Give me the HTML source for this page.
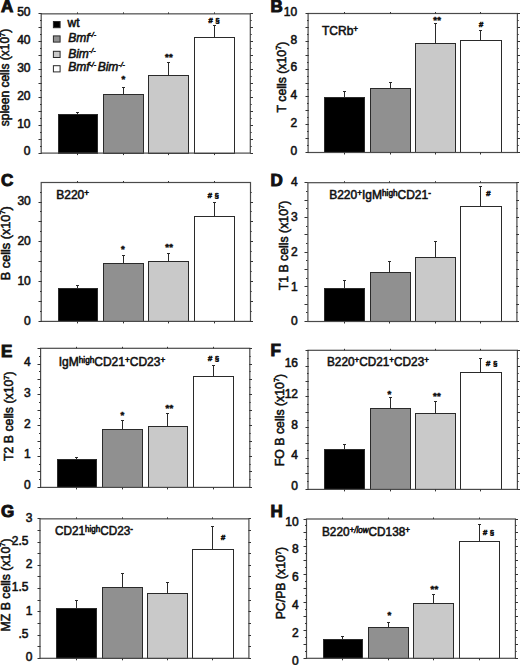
<!DOCTYPE html>
<html><head><meta charset="utf-8"><style>
html,body{margin:0;padding:0;background:#fff;}
svg{display:block;}
text{font-family:"Liberation Sans", sans-serif;fill:#111;stroke:#111;stroke-width:0.55px;}
</style></head><body>
<svg width="520" height="665" viewBox="0 0 520 665">
<rect width="520" height="665" fill="#fff"/>
<line x1="77.5" y1="114.5" x2="77.5" y2="112.5" stroke="#2a2a2a" stroke-width="1"/>
<line x1="76" y1="112.5" x2="79" y2="112.5" stroke="#2a2a2a" stroke-width="1"/>
<rect x="58.5" y="114.5" width="39" height="39" fill="#000000" stroke="#2a2a2a" stroke-width="1"/>
<line x1="123.5" y1="94.5" x2="123.5" y2="87.5" stroke="#2a2a2a" stroke-width="1"/>
<line x1="122" y1="87.5" x2="125" y2="87.5" stroke="#2a2a2a" stroke-width="1"/>
<rect x="103.5" y="94.5" width="40" height="59" fill="#909090" stroke="#2a2a2a" stroke-width="1"/>
<text x="123.5" y="82.4" font-size="9.5" font-weight="bold" text-anchor="middle" letter-spacing="0.3">*</text>
<line x1="168.5" y1="75.5" x2="168.5" y2="62.5" stroke="#2a2a2a" stroke-width="1"/>
<line x1="167" y1="62.5" x2="170" y2="62.5" stroke="#2a2a2a" stroke-width="1"/>
<rect x="148.5" y="75.5" width="40" height="78" fill="#c9c9c9" stroke="#2a2a2a" stroke-width="1"/>
<text x="168.9" y="59.6" font-size="9.5" font-weight="bold" text-anchor="middle" letter-spacing="0.3">**</text>
<line x1="214.5" y1="37.5" x2="214.5" y2="25.5" stroke="#2a2a2a" stroke-width="1"/>
<line x1="213" y1="25.5" x2="216" y2="25.5" stroke="#2a2a2a" stroke-width="1"/>
<rect x="194.5" y="37.5" width="40" height="116" fill="#ffffff" stroke="#2a2a2a" stroke-width="1"/>
<text x="210.4" y="23" font-size="8" font-weight="bold" font-style="italic" text-anchor="middle">#</text>
<text x="217.5" y="23" font-size="8" text-anchor="middle">§</text>
<rect x="41.2" y="13.85" width="209.1" height="139.25" fill="none" stroke="#4a4a4a" stroke-width="1.2"/>
<line x1="40" y1="153.5" x2="41.5" y2="153.5" stroke="#333" stroke-width="1"/>
<line x1="40" y1="146.5" x2="41.5" y2="146.5" stroke="#333" stroke-width="1"/>
<line x1="40" y1="139.5" x2="41.5" y2="139.5" stroke="#333" stroke-width="1"/>
<line x1="40" y1="132.5" x2="41.5" y2="132.5" stroke="#333" stroke-width="1"/>
<line x1="40" y1="125.5" x2="41.5" y2="125.5" stroke="#333" stroke-width="1"/>
<line x1="40" y1="118.5" x2="41.5" y2="118.5" stroke="#333" stroke-width="1"/>
<line x1="40" y1="111.5" x2="41.5" y2="111.5" stroke="#333" stroke-width="1"/>
<line x1="40" y1="104.5" x2="41.5" y2="104.5" stroke="#333" stroke-width="1"/>
<line x1="40" y1="97.5" x2="41.5" y2="97.5" stroke="#333" stroke-width="1"/>
<line x1="40" y1="90.5" x2="41.5" y2="90.5" stroke="#333" stroke-width="1"/>
<line x1="40" y1="83.5" x2="41.5" y2="83.5" stroke="#333" stroke-width="1"/>
<line x1="40" y1="76.5" x2="41.5" y2="76.5" stroke="#333" stroke-width="1"/>
<line x1="40" y1="69.5" x2="41.5" y2="69.5" stroke="#333" stroke-width="1"/>
<line x1="40" y1="62.5" x2="41.5" y2="62.5" stroke="#333" stroke-width="1"/>
<line x1="40" y1="55.5" x2="41.5" y2="55.5" stroke="#333" stroke-width="1"/>
<line x1="40" y1="48.5" x2="41.5" y2="48.5" stroke="#333" stroke-width="1"/>
<line x1="40" y1="41.5" x2="41.5" y2="41.5" stroke="#333" stroke-width="1"/>
<line x1="40" y1="34.5" x2="41.5" y2="34.5" stroke="#333" stroke-width="1"/>
<line x1="40" y1="27.5" x2="41.5" y2="27.5" stroke="#333" stroke-width="1"/>
<line x1="40" y1="20.5" x2="41.5" y2="20.5" stroke="#333" stroke-width="1"/>
<line x1="40" y1="13.5" x2="41.5" y2="13.5" stroke="#333" stroke-width="1"/>
<line x1="38.5" y1="153.5" x2="41.5" y2="153.5" stroke="#333" stroke-width="1"/>
<line x1="38.5" y1="139.5" x2="41.5" y2="139.5" stroke="#333" stroke-width="1"/>
<line x1="38.5" y1="125.5" x2="41.5" y2="125.5" stroke="#333" stroke-width="1"/>
<line x1="38.5" y1="111.5" x2="41.5" y2="111.5" stroke="#333" stroke-width="1"/>
<line x1="38.5" y1="97.5" x2="41.5" y2="97.5" stroke="#333" stroke-width="1"/>
<line x1="38.5" y1="83.5" x2="41.5" y2="83.5" stroke="#333" stroke-width="1"/>
<line x1="38.5" y1="69.5" x2="41.5" y2="69.5" stroke="#333" stroke-width="1"/>
<line x1="38.5" y1="55.5" x2="41.5" y2="55.5" stroke="#333" stroke-width="1"/>
<line x1="38.5" y1="41.5" x2="41.5" y2="41.5" stroke="#333" stroke-width="1"/>
<line x1="38.5" y1="27.5" x2="41.5" y2="27.5" stroke="#333" stroke-width="1"/>
<line x1="38.5" y1="13.5" x2="41.5" y2="13.5" stroke="#333" stroke-width="1"/>
<line x1="250.5" y1="153.5" x2="251.7" y2="153.5" stroke="#333" stroke-width="1"/>
<line x1="250.5" y1="146.5" x2="251.7" y2="146.5" stroke="#333" stroke-width="1"/>
<line x1="250.5" y1="139.5" x2="251.7" y2="139.5" stroke="#333" stroke-width="1"/>
<line x1="250.5" y1="132.5" x2="251.7" y2="132.5" stroke="#333" stroke-width="1"/>
<line x1="250.5" y1="125.5" x2="251.7" y2="125.5" stroke="#333" stroke-width="1"/>
<line x1="250.5" y1="118.5" x2="251.7" y2="118.5" stroke="#333" stroke-width="1"/>
<line x1="250.5" y1="111.5" x2="251.7" y2="111.5" stroke="#333" stroke-width="1"/>
<line x1="250.5" y1="104.5" x2="251.7" y2="104.5" stroke="#333" stroke-width="1"/>
<line x1="250.5" y1="97.5" x2="251.7" y2="97.5" stroke="#333" stroke-width="1"/>
<line x1="250.5" y1="90.5" x2="251.7" y2="90.5" stroke="#333" stroke-width="1"/>
<line x1="250.5" y1="83.5" x2="251.7" y2="83.5" stroke="#333" stroke-width="1"/>
<line x1="250.5" y1="76.5" x2="251.7" y2="76.5" stroke="#333" stroke-width="1"/>
<line x1="250.5" y1="69.5" x2="251.7" y2="69.5" stroke="#333" stroke-width="1"/>
<line x1="250.5" y1="62.5" x2="251.7" y2="62.5" stroke="#333" stroke-width="1"/>
<line x1="250.5" y1="55.5" x2="251.7" y2="55.5" stroke="#333" stroke-width="1"/>
<line x1="250.5" y1="48.5" x2="251.7" y2="48.5" stroke="#333" stroke-width="1"/>
<line x1="250.5" y1="41.5" x2="251.7" y2="41.5" stroke="#333" stroke-width="1"/>
<line x1="250.5" y1="34.5" x2="251.7" y2="34.5" stroke="#333" stroke-width="1"/>
<line x1="250.5" y1="27.5" x2="251.7" y2="27.5" stroke="#333" stroke-width="1"/>
<line x1="250.5" y1="20.5" x2="251.7" y2="20.5" stroke="#333" stroke-width="1"/>
<line x1="250.5" y1="13.5" x2="251.7" y2="13.5" stroke="#333" stroke-width="1"/>
<line x1="250.5" y1="153.5" x2="253" y2="153.5" stroke="#333" stroke-width="1"/>
<line x1="250.5" y1="139.5" x2="253" y2="139.5" stroke="#333" stroke-width="1"/>
<line x1="250.5" y1="125.5" x2="253" y2="125.5" stroke="#333" stroke-width="1"/>
<line x1="250.5" y1="111.5" x2="253" y2="111.5" stroke="#333" stroke-width="1"/>
<line x1="250.5" y1="97.5" x2="253" y2="97.5" stroke="#333" stroke-width="1"/>
<line x1="250.5" y1="83.5" x2="253" y2="83.5" stroke="#333" stroke-width="1"/>
<line x1="250.5" y1="69.5" x2="253" y2="69.5" stroke="#333" stroke-width="1"/>
<line x1="250.5" y1="55.5" x2="253" y2="55.5" stroke="#333" stroke-width="1"/>
<line x1="250.5" y1="41.5" x2="253" y2="41.5" stroke="#333" stroke-width="1"/>
<line x1="250.5" y1="27.5" x2="253" y2="27.5" stroke="#333" stroke-width="1"/>
<line x1="250.5" y1="13.5" x2="253" y2="13.5" stroke="#333" stroke-width="1"/>
<line x1="77.5" y1="12.35" x2="77.5" y2="13.85" stroke="#333" stroke-width="1"/>
<line x1="77.5" y1="153.1" x2="77.5" y2="155.1" stroke="#333" stroke-width="1"/>
<line x1="123.5" y1="12.35" x2="123.5" y2="13.85" stroke="#333" stroke-width="1"/>
<line x1="123.5" y1="153.1" x2="123.5" y2="155.1" stroke="#333" stroke-width="1"/>
<line x1="168.5" y1="12.35" x2="168.5" y2="13.85" stroke="#333" stroke-width="1"/>
<line x1="168.5" y1="153.1" x2="168.5" y2="155.1" stroke="#333" stroke-width="1"/>
<line x1="214.5" y1="12.35" x2="214.5" y2="13.85" stroke="#333" stroke-width="1"/>
<line x1="214.5" y1="153.1" x2="214.5" y2="155.1" stroke="#333" stroke-width="1"/>
<text x="30.5" y="155.4" font-size="12.0" text-anchor="end">0</text>
<text x="30.5" y="127.55" font-size="12.0" text-anchor="end">10</text>
<text x="30.5" y="99.7" font-size="12.0" text-anchor="end">20</text>
<text x="30.5" y="71.85" font-size="12.0" text-anchor="end">30</text>
<text x="30.5" y="44" font-size="12.0" text-anchor="end">40</text>
<text x="30.5" y="16.15" font-size="12.0" text-anchor="end">50</text>
<text x="1" y="11.6" font-size="17" font-weight="bold" style="stroke-width:1.0px">A</text>
<text transform="translate(9 77.5) rotate(-90)" font-size="12.0" text-anchor="middle">spleen cells (x10<tspan font-size="7.5" dy="-4.5">7</tspan><tspan dy="4.5">)</tspan></text>
<line x1="344.5" y1="97.5" x2="344.5" y2="91.5" stroke="#2a2a2a" stroke-width="1"/>
<line x1="343" y1="91.5" x2="346" y2="91.5" stroke="#2a2a2a" stroke-width="1"/>
<rect x="324.5" y="97.5" width="40" height="55" fill="#000000" stroke="#2a2a2a" stroke-width="1"/>
<line x1="390.5" y1="88.5" x2="390.5" y2="82.5" stroke="#2a2a2a" stroke-width="1"/>
<line x1="389" y1="82.5" x2="392" y2="82.5" stroke="#2a2a2a" stroke-width="1"/>
<rect x="370.5" y="88.5" width="40" height="64" fill="#909090" stroke="#2a2a2a" stroke-width="1"/>
<line x1="435.5" y1="43.5" x2="435.5" y2="23.5" stroke="#2a2a2a" stroke-width="1"/>
<line x1="434" y1="23.5" x2="437" y2="23.5" stroke="#2a2a2a" stroke-width="1"/>
<rect x="415.5" y="43.5" width="40" height="109" fill="#c9c9c9" stroke="#2a2a2a" stroke-width="1"/>
<text x="437.3" y="23.2" font-size="9.5" font-weight="bold" text-anchor="middle" letter-spacing="0.3">**</text>
<line x1="480.5" y1="40.5" x2="480.5" y2="30.5" stroke="#2a2a2a" stroke-width="1"/>
<line x1="479" y1="30.5" x2="482" y2="30.5" stroke="#2a2a2a" stroke-width="1"/>
<rect x="460.5" y="40.5" width="41" height="112" fill="#ffffff" stroke="#2a2a2a" stroke-width="1"/>
<text x="480.9" y="27.3" font-size="8" font-weight="bold" font-style="italic" text-anchor="middle">#</text>
<rect x="308.1" y="13.5" width="209.3" height="139" fill="none" stroke="#4a4a4a" stroke-width="1.2"/>
<line x1="307" y1="152.5" x2="308.5" y2="152.5" stroke="#333" stroke-width="1"/>
<line x1="307" y1="145.5" x2="308.5" y2="145.5" stroke="#333" stroke-width="1"/>
<line x1="307" y1="138.5" x2="308.5" y2="138.5" stroke="#333" stroke-width="1"/>
<line x1="307" y1="131.5" x2="308.5" y2="131.5" stroke="#333" stroke-width="1"/>
<line x1="307" y1="124.5" x2="308.5" y2="124.5" stroke="#333" stroke-width="1"/>
<line x1="307" y1="117.5" x2="308.5" y2="117.5" stroke="#333" stroke-width="1"/>
<line x1="307" y1="110.5" x2="308.5" y2="110.5" stroke="#333" stroke-width="1"/>
<line x1="307" y1="103.5" x2="308.5" y2="103.5" stroke="#333" stroke-width="1"/>
<line x1="307" y1="96.5" x2="308.5" y2="96.5" stroke="#333" stroke-width="1"/>
<line x1="307" y1="89.5" x2="308.5" y2="89.5" stroke="#333" stroke-width="1"/>
<line x1="307" y1="83.5" x2="308.5" y2="83.5" stroke="#333" stroke-width="1"/>
<line x1="307" y1="76.5" x2="308.5" y2="76.5" stroke="#333" stroke-width="1"/>
<line x1="307" y1="69.5" x2="308.5" y2="69.5" stroke="#333" stroke-width="1"/>
<line x1="307" y1="62.5" x2="308.5" y2="62.5" stroke="#333" stroke-width="1"/>
<line x1="307" y1="55.5" x2="308.5" y2="55.5" stroke="#333" stroke-width="1"/>
<line x1="307" y1="48.5" x2="308.5" y2="48.5" stroke="#333" stroke-width="1"/>
<line x1="307" y1="41.5" x2="308.5" y2="41.5" stroke="#333" stroke-width="1"/>
<line x1="307" y1="34.5" x2="308.5" y2="34.5" stroke="#333" stroke-width="1"/>
<line x1="307" y1="27.5" x2="308.5" y2="27.5" stroke="#333" stroke-width="1"/>
<line x1="307" y1="20.5" x2="308.5" y2="20.5" stroke="#333" stroke-width="1"/>
<line x1="307" y1="13.5" x2="308.5" y2="13.5" stroke="#333" stroke-width="1"/>
<line x1="305.5" y1="152.5" x2="308.5" y2="152.5" stroke="#333" stroke-width="1"/>
<line x1="305.5" y1="138.5" x2="308.5" y2="138.5" stroke="#333" stroke-width="1"/>
<line x1="305.5" y1="124.5" x2="308.5" y2="124.5" stroke="#333" stroke-width="1"/>
<line x1="305.5" y1="110.5" x2="308.5" y2="110.5" stroke="#333" stroke-width="1"/>
<line x1="305.5" y1="96.5" x2="308.5" y2="96.5" stroke="#333" stroke-width="1"/>
<line x1="305.5" y1="83.5" x2="308.5" y2="83.5" stroke="#333" stroke-width="1"/>
<line x1="305.5" y1="69.5" x2="308.5" y2="69.5" stroke="#333" stroke-width="1"/>
<line x1="305.5" y1="55.5" x2="308.5" y2="55.5" stroke="#333" stroke-width="1"/>
<line x1="305.5" y1="41.5" x2="308.5" y2="41.5" stroke="#333" stroke-width="1"/>
<line x1="305.5" y1="27.5" x2="308.5" y2="27.5" stroke="#333" stroke-width="1"/>
<line x1="305.5" y1="13.5" x2="308.5" y2="13.5" stroke="#333" stroke-width="1"/>
<line x1="517.5" y1="152.5" x2="518.7" y2="152.5" stroke="#333" stroke-width="1"/>
<line x1="517.5" y1="145.5" x2="518.7" y2="145.5" stroke="#333" stroke-width="1"/>
<line x1="517.5" y1="138.5" x2="518.7" y2="138.5" stroke="#333" stroke-width="1"/>
<line x1="517.5" y1="131.5" x2="518.7" y2="131.5" stroke="#333" stroke-width="1"/>
<line x1="517.5" y1="124.5" x2="518.7" y2="124.5" stroke="#333" stroke-width="1"/>
<line x1="517.5" y1="117.5" x2="518.7" y2="117.5" stroke="#333" stroke-width="1"/>
<line x1="517.5" y1="110.5" x2="518.7" y2="110.5" stroke="#333" stroke-width="1"/>
<line x1="517.5" y1="103.5" x2="518.7" y2="103.5" stroke="#333" stroke-width="1"/>
<line x1="517.5" y1="96.5" x2="518.7" y2="96.5" stroke="#333" stroke-width="1"/>
<line x1="517.5" y1="89.5" x2="518.7" y2="89.5" stroke="#333" stroke-width="1"/>
<line x1="517.5" y1="83.5" x2="518.7" y2="83.5" stroke="#333" stroke-width="1"/>
<line x1="517.5" y1="76.5" x2="518.7" y2="76.5" stroke="#333" stroke-width="1"/>
<line x1="517.5" y1="69.5" x2="518.7" y2="69.5" stroke="#333" stroke-width="1"/>
<line x1="517.5" y1="62.5" x2="518.7" y2="62.5" stroke="#333" stroke-width="1"/>
<line x1="517.5" y1="55.5" x2="518.7" y2="55.5" stroke="#333" stroke-width="1"/>
<line x1="517.5" y1="48.5" x2="518.7" y2="48.5" stroke="#333" stroke-width="1"/>
<line x1="517.5" y1="41.5" x2="518.7" y2="41.5" stroke="#333" stroke-width="1"/>
<line x1="517.5" y1="34.5" x2="518.7" y2="34.5" stroke="#333" stroke-width="1"/>
<line x1="517.5" y1="27.5" x2="518.7" y2="27.5" stroke="#333" stroke-width="1"/>
<line x1="517.5" y1="20.5" x2="518.7" y2="20.5" stroke="#333" stroke-width="1"/>
<line x1="517.5" y1="13.5" x2="518.7" y2="13.5" stroke="#333" stroke-width="1"/>
<line x1="517.5" y1="152.5" x2="520" y2="152.5" stroke="#333" stroke-width="1"/>
<line x1="517.5" y1="138.5" x2="520" y2="138.5" stroke="#333" stroke-width="1"/>
<line x1="517.5" y1="124.5" x2="520" y2="124.5" stroke="#333" stroke-width="1"/>
<line x1="517.5" y1="110.5" x2="520" y2="110.5" stroke="#333" stroke-width="1"/>
<line x1="517.5" y1="96.5" x2="520" y2="96.5" stroke="#333" stroke-width="1"/>
<line x1="517.5" y1="83.5" x2="520" y2="83.5" stroke="#333" stroke-width="1"/>
<line x1="517.5" y1="69.5" x2="520" y2="69.5" stroke="#333" stroke-width="1"/>
<line x1="517.5" y1="55.5" x2="520" y2="55.5" stroke="#333" stroke-width="1"/>
<line x1="517.5" y1="41.5" x2="520" y2="41.5" stroke="#333" stroke-width="1"/>
<line x1="517.5" y1="27.5" x2="520" y2="27.5" stroke="#333" stroke-width="1"/>
<line x1="517.5" y1="13.5" x2="520" y2="13.5" stroke="#333" stroke-width="1"/>
<line x1="344.5" y1="12" x2="344.5" y2="13.5" stroke="#333" stroke-width="1"/>
<line x1="344.5" y1="152.5" x2="344.5" y2="154.5" stroke="#333" stroke-width="1"/>
<line x1="390.5" y1="12" x2="390.5" y2="13.5" stroke="#333" stroke-width="1"/>
<line x1="390.5" y1="152.5" x2="390.5" y2="154.5" stroke="#333" stroke-width="1"/>
<line x1="435.5" y1="12" x2="435.5" y2="13.5" stroke="#333" stroke-width="1"/>
<line x1="435.5" y1="152.5" x2="435.5" y2="154.5" stroke="#333" stroke-width="1"/>
<line x1="480.5" y1="12" x2="480.5" y2="13.5" stroke="#333" stroke-width="1"/>
<line x1="480.5" y1="152.5" x2="480.5" y2="154.5" stroke="#333" stroke-width="1"/>
<text x="297.1" y="154.7" font-size="12.0" text-anchor="end">0</text>
<text x="297.1" y="126.9" font-size="12.0" text-anchor="end">2</text>
<text x="297.1" y="99.1" font-size="12.0" text-anchor="end">4</text>
<text x="297.1" y="71.3" font-size="12.0" text-anchor="end">6</text>
<text x="297.1" y="43.5" font-size="12.0" text-anchor="end">8</text>
<text x="297.1" y="15.7" font-size="12.0" text-anchor="end">10</text>
<text x="270.5" y="11.6" font-size="17" font-weight="bold" style="stroke-width:1.0px">B</text>
<text transform="translate(285.6 77) rotate(-90)" font-size="12.3" text-anchor="middle">T cells (x10<tspan font-size="7.5" dy="-4.5">7</tspan><tspan dy="4.5">)</tspan></text>
<text x="322" y="34.9" font-size="12">TCRb<tspan font-size="8.2" dy="-3.2">+</tspan><tspan dy="3.2">​</tspan></text>
<line x1="77.5" y1="288.5" x2="77.5" y2="285.5" stroke="#2a2a2a" stroke-width="1"/>
<line x1="76" y1="285.5" x2="79" y2="285.5" stroke="#2a2a2a" stroke-width="1"/>
<rect x="58.5" y="288.5" width="39" height="33" fill="#000000" stroke="#2a2a2a" stroke-width="1"/>
<line x1="123.5" y1="263.5" x2="123.5" y2="255.5" stroke="#2a2a2a" stroke-width="1"/>
<line x1="122" y1="255.5" x2="125" y2="255.5" stroke="#2a2a2a" stroke-width="1"/>
<rect x="103.5" y="263.5" width="40" height="58" fill="#909090" stroke="#2a2a2a" stroke-width="1"/>
<text x="123" y="251.6" font-size="9.5" font-weight="bold" text-anchor="middle" letter-spacing="0.3">*</text>
<line x1="168.5" y1="261.5" x2="168.5" y2="253.5" stroke="#2a2a2a" stroke-width="1"/>
<line x1="167" y1="253.5" x2="170" y2="253.5" stroke="#2a2a2a" stroke-width="1"/>
<rect x="148.5" y="261.5" width="40" height="60" fill="#c9c9c9" stroke="#2a2a2a" stroke-width="1"/>
<text x="169.25" y="250" font-size="9.5" font-weight="bold" text-anchor="middle" letter-spacing="0.3">**</text>
<line x1="214.5" y1="216.5" x2="214.5" y2="202.5" stroke="#2a2a2a" stroke-width="1"/>
<line x1="213" y1="202.5" x2="216" y2="202.5" stroke="#2a2a2a" stroke-width="1"/>
<rect x="194.5" y="216.5" width="40" height="105" fill="#ffffff" stroke="#2a2a2a" stroke-width="1"/>
<text x="209.75" y="197.65" font-size="8" font-weight="bold" font-style="italic" text-anchor="middle">#</text>
<text x="216.85" y="197.65" font-size="8" text-anchor="middle">§</text>
<rect x="41.2" y="182.5" width="209.3" height="138.9" fill="none" stroke="#4a4a4a" stroke-width="1.2"/>
<line x1="40" y1="321.5" x2="41.5" y2="321.5" stroke="#333" stroke-width="1"/>
<line x1="40" y1="311.5" x2="41.5" y2="311.5" stroke="#333" stroke-width="1"/>
<line x1="40" y1="301.5" x2="41.5" y2="301.5" stroke="#333" stroke-width="1"/>
<line x1="40" y1="291.5" x2="41.5" y2="291.5" stroke="#333" stroke-width="1"/>
<line x1="40" y1="281.5" x2="41.5" y2="281.5" stroke="#333" stroke-width="1"/>
<line x1="40" y1="271.5" x2="41.5" y2="271.5" stroke="#333" stroke-width="1"/>
<line x1="40" y1="261.5" x2="41.5" y2="261.5" stroke="#333" stroke-width="1"/>
<line x1="40" y1="251.5" x2="41.5" y2="251.5" stroke="#333" stroke-width="1"/>
<line x1="40" y1="241.5" x2="41.5" y2="241.5" stroke="#333" stroke-width="1"/>
<line x1="40" y1="231.5" x2="41.5" y2="231.5" stroke="#333" stroke-width="1"/>
<line x1="40" y1="221.5" x2="41.5" y2="221.5" stroke="#333" stroke-width="1"/>
<line x1="40" y1="211.5" x2="41.5" y2="211.5" stroke="#333" stroke-width="1"/>
<line x1="40" y1="202.5" x2="41.5" y2="202.5" stroke="#333" stroke-width="1"/>
<line x1="40" y1="192.5" x2="41.5" y2="192.5" stroke="#333" stroke-width="1"/>
<line x1="38.5" y1="321.5" x2="41.5" y2="321.5" stroke="#333" stroke-width="1"/>
<line x1="38.5" y1="301.5" x2="41.5" y2="301.5" stroke="#333" stroke-width="1"/>
<line x1="38.5" y1="281.5" x2="41.5" y2="281.5" stroke="#333" stroke-width="1"/>
<line x1="38.5" y1="261.5" x2="41.5" y2="261.5" stroke="#333" stroke-width="1"/>
<line x1="38.5" y1="241.5" x2="41.5" y2="241.5" stroke="#333" stroke-width="1"/>
<line x1="38.5" y1="221.5" x2="41.5" y2="221.5" stroke="#333" stroke-width="1"/>
<line x1="38.5" y1="202.5" x2="41.5" y2="202.5" stroke="#333" stroke-width="1"/>
<line x1="250.5" y1="321.5" x2="251.7" y2="321.5" stroke="#333" stroke-width="1"/>
<line x1="250.5" y1="311.5" x2="251.7" y2="311.5" stroke="#333" stroke-width="1"/>
<line x1="250.5" y1="301.5" x2="251.7" y2="301.5" stroke="#333" stroke-width="1"/>
<line x1="250.5" y1="291.5" x2="251.7" y2="291.5" stroke="#333" stroke-width="1"/>
<line x1="250.5" y1="281.5" x2="251.7" y2="281.5" stroke="#333" stroke-width="1"/>
<line x1="250.5" y1="271.5" x2="251.7" y2="271.5" stroke="#333" stroke-width="1"/>
<line x1="250.5" y1="261.5" x2="251.7" y2="261.5" stroke="#333" stroke-width="1"/>
<line x1="250.5" y1="251.5" x2="251.7" y2="251.5" stroke="#333" stroke-width="1"/>
<line x1="250.5" y1="241.5" x2="251.7" y2="241.5" stroke="#333" stroke-width="1"/>
<line x1="250.5" y1="231.5" x2="251.7" y2="231.5" stroke="#333" stroke-width="1"/>
<line x1="250.5" y1="221.5" x2="251.7" y2="221.5" stroke="#333" stroke-width="1"/>
<line x1="250.5" y1="211.5" x2="251.7" y2="211.5" stroke="#333" stroke-width="1"/>
<line x1="250.5" y1="202.5" x2="251.7" y2="202.5" stroke="#333" stroke-width="1"/>
<line x1="250.5" y1="192.5" x2="251.7" y2="192.5" stroke="#333" stroke-width="1"/>
<line x1="250.5" y1="321.5" x2="253" y2="321.5" stroke="#333" stroke-width="1"/>
<line x1="250.5" y1="301.5" x2="253" y2="301.5" stroke="#333" stroke-width="1"/>
<line x1="250.5" y1="281.5" x2="253" y2="281.5" stroke="#333" stroke-width="1"/>
<line x1="250.5" y1="261.5" x2="253" y2="261.5" stroke="#333" stroke-width="1"/>
<line x1="250.5" y1="241.5" x2="253" y2="241.5" stroke="#333" stroke-width="1"/>
<line x1="250.5" y1="221.5" x2="253" y2="221.5" stroke="#333" stroke-width="1"/>
<line x1="250.5" y1="202.5" x2="253" y2="202.5" stroke="#333" stroke-width="1"/>
<line x1="77.5" y1="181" x2="77.5" y2="182.5" stroke="#333" stroke-width="1"/>
<line x1="77.5" y1="321.4" x2="77.5" y2="323.4" stroke="#333" stroke-width="1"/>
<line x1="123.5" y1="181" x2="123.5" y2="182.5" stroke="#333" stroke-width="1"/>
<line x1="123.5" y1="321.4" x2="123.5" y2="323.4" stroke="#333" stroke-width="1"/>
<line x1="168.5" y1="181" x2="168.5" y2="182.5" stroke="#333" stroke-width="1"/>
<line x1="168.5" y1="321.4" x2="168.5" y2="323.4" stroke="#333" stroke-width="1"/>
<line x1="214.5" y1="181" x2="214.5" y2="182.5" stroke="#333" stroke-width="1"/>
<line x1="214.5" y1="321.4" x2="214.5" y2="323.4" stroke="#333" stroke-width="1"/>
<text x="30.8" y="324.7" font-size="12.0" text-anchor="end">0</text>
<text x="30.8" y="284.9" font-size="12.0" text-anchor="end">10</text>
<text x="30.8" y="245.1" font-size="12.0" text-anchor="end">20</text>
<text x="30.8" y="205.3" font-size="12.0" text-anchor="end">30</text>
<text x="1" y="186.1" font-size="17" font-weight="bold" style="stroke-width:1.0px">C</text>
<text transform="translate(9.6 243.2) rotate(-90)" font-size="12.7" text-anchor="middle">B cells (x10<tspan font-size="7.5" dy="-4.5">7</tspan><tspan dy="4.5">)</tspan></text>
<text x="56.25" y="199.4" font-size="12">B220<tspan font-size="8.2" dy="-3.2">+</tspan><tspan dy="3.2">​</tspan></text>
<line x1="344.5" y1="288.5" x2="344.5" y2="280.5" stroke="#2a2a2a" stroke-width="1"/>
<line x1="343" y1="280.5" x2="346" y2="280.5" stroke="#2a2a2a" stroke-width="1"/>
<rect x="324.5" y="288.5" width="40" height="33" fill="#000000" stroke="#2a2a2a" stroke-width="1"/>
<line x1="389.5" y1="272.5" x2="389.5" y2="261.5" stroke="#2a2a2a" stroke-width="1"/>
<line x1="388" y1="261.5" x2="391" y2="261.5" stroke="#2a2a2a" stroke-width="1"/>
<rect x="370.5" y="272.5" width="40" height="49" fill="#909090" stroke="#2a2a2a" stroke-width="1"/>
<line x1="435.5" y1="257.5" x2="435.5" y2="241.5" stroke="#2a2a2a" stroke-width="1"/>
<line x1="434" y1="241.5" x2="437" y2="241.5" stroke="#2a2a2a" stroke-width="1"/>
<rect x="415.5" y="257.5" width="40" height="64" fill="#c9c9c9" stroke="#2a2a2a" stroke-width="1"/>
<line x1="480.5" y1="206.5" x2="480.5" y2="186.5" stroke="#2a2a2a" stroke-width="1"/>
<line x1="479" y1="186.5" x2="482" y2="186.5" stroke="#2a2a2a" stroke-width="1"/>
<rect x="460.5" y="206.5" width="41" height="115" fill="#ffffff" stroke="#2a2a2a" stroke-width="1"/>
<text x="488.2" y="196.3" font-size="8" font-weight="bold" font-style="italic" text-anchor="middle">#</text>
<rect x="307.9" y="182.7" width="209" height="138.8" fill="none" stroke="#4a4a4a" stroke-width="1.2"/>
<line x1="306" y1="321.5" x2="307.5" y2="321.5" stroke="#333" stroke-width="1"/>
<line x1="306" y1="312.5" x2="307.5" y2="312.5" stroke="#333" stroke-width="1"/>
<line x1="306" y1="304.5" x2="307.5" y2="304.5" stroke="#333" stroke-width="1"/>
<line x1="306" y1="295.5" x2="307.5" y2="295.5" stroke="#333" stroke-width="1"/>
<line x1="306" y1="286.5" x2="307.5" y2="286.5" stroke="#333" stroke-width="1"/>
<line x1="306" y1="278.5" x2="307.5" y2="278.5" stroke="#333" stroke-width="1"/>
<line x1="306" y1="269.5" x2="307.5" y2="269.5" stroke="#333" stroke-width="1"/>
<line x1="306" y1="260.5" x2="307.5" y2="260.5" stroke="#333" stroke-width="1"/>
<line x1="306" y1="252.5" x2="307.5" y2="252.5" stroke="#333" stroke-width="1"/>
<line x1="306" y1="243.5" x2="307.5" y2="243.5" stroke="#333" stroke-width="1"/>
<line x1="306" y1="234.5" x2="307.5" y2="234.5" stroke="#333" stroke-width="1"/>
<line x1="306" y1="226.5" x2="307.5" y2="226.5" stroke="#333" stroke-width="1"/>
<line x1="306" y1="217.5" x2="307.5" y2="217.5" stroke="#333" stroke-width="1"/>
<line x1="306" y1="208.5" x2="307.5" y2="208.5" stroke="#333" stroke-width="1"/>
<line x1="306" y1="200.5" x2="307.5" y2="200.5" stroke="#333" stroke-width="1"/>
<line x1="306" y1="191.5" x2="307.5" y2="191.5" stroke="#333" stroke-width="1"/>
<line x1="306" y1="182.5" x2="307.5" y2="182.5" stroke="#333" stroke-width="1"/>
<line x1="304.5" y1="321.5" x2="307.5" y2="321.5" stroke="#333" stroke-width="1"/>
<line x1="304.5" y1="304.5" x2="307.5" y2="304.5" stroke="#333" stroke-width="1"/>
<line x1="304.5" y1="286.5" x2="307.5" y2="286.5" stroke="#333" stroke-width="1"/>
<line x1="304.5" y1="269.5" x2="307.5" y2="269.5" stroke="#333" stroke-width="1"/>
<line x1="304.5" y1="252.5" x2="307.5" y2="252.5" stroke="#333" stroke-width="1"/>
<line x1="304.5" y1="234.5" x2="307.5" y2="234.5" stroke="#333" stroke-width="1"/>
<line x1="304.5" y1="217.5" x2="307.5" y2="217.5" stroke="#333" stroke-width="1"/>
<line x1="304.5" y1="200.5" x2="307.5" y2="200.5" stroke="#333" stroke-width="1"/>
<line x1="304.5" y1="182.5" x2="307.5" y2="182.5" stroke="#333" stroke-width="1"/>
<line x1="516.5" y1="321.5" x2="517.7" y2="321.5" stroke="#333" stroke-width="1"/>
<line x1="516.5" y1="312.5" x2="517.7" y2="312.5" stroke="#333" stroke-width="1"/>
<line x1="516.5" y1="304.5" x2="517.7" y2="304.5" stroke="#333" stroke-width="1"/>
<line x1="516.5" y1="295.5" x2="517.7" y2="295.5" stroke="#333" stroke-width="1"/>
<line x1="516.5" y1="286.5" x2="517.7" y2="286.5" stroke="#333" stroke-width="1"/>
<line x1="516.5" y1="278.5" x2="517.7" y2="278.5" stroke="#333" stroke-width="1"/>
<line x1="516.5" y1="269.5" x2="517.7" y2="269.5" stroke="#333" stroke-width="1"/>
<line x1="516.5" y1="260.5" x2="517.7" y2="260.5" stroke="#333" stroke-width="1"/>
<line x1="516.5" y1="252.5" x2="517.7" y2="252.5" stroke="#333" stroke-width="1"/>
<line x1="516.5" y1="243.5" x2="517.7" y2="243.5" stroke="#333" stroke-width="1"/>
<line x1="516.5" y1="234.5" x2="517.7" y2="234.5" stroke="#333" stroke-width="1"/>
<line x1="516.5" y1="226.5" x2="517.7" y2="226.5" stroke="#333" stroke-width="1"/>
<line x1="516.5" y1="217.5" x2="517.7" y2="217.5" stroke="#333" stroke-width="1"/>
<line x1="516.5" y1="208.5" x2="517.7" y2="208.5" stroke="#333" stroke-width="1"/>
<line x1="516.5" y1="200.5" x2="517.7" y2="200.5" stroke="#333" stroke-width="1"/>
<line x1="516.5" y1="191.5" x2="517.7" y2="191.5" stroke="#333" stroke-width="1"/>
<line x1="516.5" y1="182.5" x2="517.7" y2="182.5" stroke="#333" stroke-width="1"/>
<line x1="516.5" y1="321.5" x2="519" y2="321.5" stroke="#333" stroke-width="1"/>
<line x1="516.5" y1="304.5" x2="519" y2="304.5" stroke="#333" stroke-width="1"/>
<line x1="516.5" y1="286.5" x2="519" y2="286.5" stroke="#333" stroke-width="1"/>
<line x1="516.5" y1="269.5" x2="519" y2="269.5" stroke="#333" stroke-width="1"/>
<line x1="516.5" y1="252.5" x2="519" y2="252.5" stroke="#333" stroke-width="1"/>
<line x1="516.5" y1="234.5" x2="519" y2="234.5" stroke="#333" stroke-width="1"/>
<line x1="516.5" y1="217.5" x2="519" y2="217.5" stroke="#333" stroke-width="1"/>
<line x1="516.5" y1="200.5" x2="519" y2="200.5" stroke="#333" stroke-width="1"/>
<line x1="516.5" y1="182.5" x2="519" y2="182.5" stroke="#333" stroke-width="1"/>
<line x1="344.5" y1="181.2" x2="344.5" y2="182.7" stroke="#333" stroke-width="1"/>
<line x1="344.5" y1="321.5" x2="344.5" y2="323.5" stroke="#333" stroke-width="1"/>
<line x1="389.5" y1="181.2" x2="389.5" y2="182.7" stroke="#333" stroke-width="1"/>
<line x1="389.5" y1="321.5" x2="389.5" y2="323.5" stroke="#333" stroke-width="1"/>
<line x1="435.5" y1="181.2" x2="435.5" y2="182.7" stroke="#333" stroke-width="1"/>
<line x1="435.5" y1="321.5" x2="435.5" y2="323.5" stroke="#333" stroke-width="1"/>
<line x1="480.5" y1="181.2" x2="480.5" y2="182.7" stroke="#333" stroke-width="1"/>
<line x1="480.5" y1="321.5" x2="480.5" y2="323.5" stroke="#333" stroke-width="1"/>
<text x="297.6" y="325.2" font-size="12.0" text-anchor="end">0</text>
<text x="297.6" y="290.5" font-size="12.0" text-anchor="end">1</text>
<text x="297.6" y="255.8" font-size="12.0" text-anchor="end">2</text>
<text x="297.6" y="221.1" font-size="12.0" text-anchor="end">3</text>
<text x="297.6" y="186.4" font-size="12.0" text-anchor="end">4</text>
<text x="270.5" y="186.3" font-size="17" font-weight="bold" style="stroke-width:1.0px">D</text>
<text transform="translate(288 245.5) rotate(-90)" font-size="12.3" text-anchor="middle">T1 B cells (x10<tspan font-size="7.5" dy="-4.5">7</tspan><tspan dy="4.5">)</tspan></text>
<text x="329.2" y="198.8" font-size="12">B220<tspan font-size="8.2" dy="-3.2">+</tspan><tspan dy="3.2">​</tspan>IgM<tspan font-size="8.2" dy="-3.2">high</tspan><tspan dy="3.2">​</tspan>CD21<tspan font-size="8.2" dy="-3.2">-</tspan><tspan dy="3.2">​</tspan></text>
<line x1="76.5" y1="459.5" x2="76.5" y2="457.5" stroke="#2a2a2a" stroke-width="1"/>
<line x1="75" y1="457.5" x2="78" y2="457.5" stroke="#2a2a2a" stroke-width="1"/>
<rect x="57.5" y="459.5" width="39" height="28" fill="#000000" stroke="#2a2a2a" stroke-width="1"/>
<line x1="122.5" y1="429.5" x2="122.5" y2="420.5" stroke="#2a2a2a" stroke-width="1"/>
<line x1="121" y1="420.5" x2="124" y2="420.5" stroke="#2a2a2a" stroke-width="1"/>
<rect x="102.5" y="429.5" width="40" height="58" fill="#909090" stroke="#2a2a2a" stroke-width="1"/>
<text x="122.6" y="417.6" font-size="9.5" font-weight="bold" text-anchor="middle" letter-spacing="0.3">*</text>
<line x1="167.5" y1="426.5" x2="167.5" y2="413.5" stroke="#2a2a2a" stroke-width="1"/>
<line x1="166" y1="413.5" x2="169" y2="413.5" stroke="#2a2a2a" stroke-width="1"/>
<rect x="148.5" y="426.5" width="39" height="61" fill="#c9c9c9" stroke="#2a2a2a" stroke-width="1"/>
<text x="169.5" y="411.2" font-size="9.5" font-weight="bold" text-anchor="middle" letter-spacing="0.3">**</text>
<line x1="213.5" y1="376.5" x2="213.5" y2="365.5" stroke="#2a2a2a" stroke-width="1"/>
<line x1="212" y1="365.5" x2="215" y2="365.5" stroke="#2a2a2a" stroke-width="1"/>
<rect x="193.5" y="376.5" width="40" height="111" fill="#ffffff" stroke="#2a2a2a" stroke-width="1"/>
<text x="209.95" y="360.9" font-size="8" font-weight="bold" font-style="italic" text-anchor="middle">#</text>
<text x="217.05" y="360.9" font-size="8" text-anchor="middle">§</text>
<rect x="40.6" y="348.3" width="209.2" height="139.1" fill="none" stroke="#4a4a4a" stroke-width="1.2"/>
<line x1="39" y1="487.5" x2="40.5" y2="487.5" stroke="#333" stroke-width="1"/>
<line x1="39" y1="479.5" x2="40.5" y2="479.5" stroke="#333" stroke-width="1"/>
<line x1="39" y1="471.5" x2="40.5" y2="471.5" stroke="#333" stroke-width="1"/>
<line x1="39" y1="464.5" x2="40.5" y2="464.5" stroke="#333" stroke-width="1"/>
<line x1="39" y1="456.5" x2="40.5" y2="456.5" stroke="#333" stroke-width="1"/>
<line x1="39" y1="448.5" x2="40.5" y2="448.5" stroke="#333" stroke-width="1"/>
<line x1="39" y1="441.5" x2="40.5" y2="441.5" stroke="#333" stroke-width="1"/>
<line x1="39" y1="433.5" x2="40.5" y2="433.5" stroke="#333" stroke-width="1"/>
<line x1="39" y1="425.5" x2="40.5" y2="425.5" stroke="#333" stroke-width="1"/>
<line x1="39" y1="418.5" x2="40.5" y2="418.5" stroke="#333" stroke-width="1"/>
<line x1="39" y1="410.5" x2="40.5" y2="410.5" stroke="#333" stroke-width="1"/>
<line x1="39" y1="402.5" x2="40.5" y2="402.5" stroke="#333" stroke-width="1"/>
<line x1="39" y1="394.5" x2="40.5" y2="394.5" stroke="#333" stroke-width="1"/>
<line x1="39" y1="387.5" x2="40.5" y2="387.5" stroke="#333" stroke-width="1"/>
<line x1="39" y1="379.5" x2="40.5" y2="379.5" stroke="#333" stroke-width="1"/>
<line x1="39" y1="371.5" x2="40.5" y2="371.5" stroke="#333" stroke-width="1"/>
<line x1="39" y1="364.5" x2="40.5" y2="364.5" stroke="#333" stroke-width="1"/>
<line x1="39" y1="356.5" x2="40.5" y2="356.5" stroke="#333" stroke-width="1"/>
<line x1="39" y1="348.5" x2="40.5" y2="348.5" stroke="#333" stroke-width="1"/>
<line x1="37.5" y1="487.5" x2="40.5" y2="487.5" stroke="#333" stroke-width="1"/>
<line x1="37.5" y1="471.5" x2="40.5" y2="471.5" stroke="#333" stroke-width="1"/>
<line x1="37.5" y1="456.5" x2="40.5" y2="456.5" stroke="#333" stroke-width="1"/>
<line x1="37.5" y1="441.5" x2="40.5" y2="441.5" stroke="#333" stroke-width="1"/>
<line x1="37.5" y1="425.5" x2="40.5" y2="425.5" stroke="#333" stroke-width="1"/>
<line x1="37.5" y1="410.5" x2="40.5" y2="410.5" stroke="#333" stroke-width="1"/>
<line x1="37.5" y1="394.5" x2="40.5" y2="394.5" stroke="#333" stroke-width="1"/>
<line x1="37.5" y1="379.5" x2="40.5" y2="379.5" stroke="#333" stroke-width="1"/>
<line x1="37.5" y1="364.5" x2="40.5" y2="364.5" stroke="#333" stroke-width="1"/>
<line x1="37.5" y1="348.5" x2="40.5" y2="348.5" stroke="#333" stroke-width="1"/>
<line x1="249.5" y1="487.5" x2="250.7" y2="487.5" stroke="#333" stroke-width="1"/>
<line x1="249.5" y1="479.5" x2="250.7" y2="479.5" stroke="#333" stroke-width="1"/>
<line x1="249.5" y1="471.5" x2="250.7" y2="471.5" stroke="#333" stroke-width="1"/>
<line x1="249.5" y1="464.5" x2="250.7" y2="464.5" stroke="#333" stroke-width="1"/>
<line x1="249.5" y1="456.5" x2="250.7" y2="456.5" stroke="#333" stroke-width="1"/>
<line x1="249.5" y1="448.5" x2="250.7" y2="448.5" stroke="#333" stroke-width="1"/>
<line x1="249.5" y1="441.5" x2="250.7" y2="441.5" stroke="#333" stroke-width="1"/>
<line x1="249.5" y1="433.5" x2="250.7" y2="433.5" stroke="#333" stroke-width="1"/>
<line x1="249.5" y1="425.5" x2="250.7" y2="425.5" stroke="#333" stroke-width="1"/>
<line x1="249.5" y1="418.5" x2="250.7" y2="418.5" stroke="#333" stroke-width="1"/>
<line x1="249.5" y1="410.5" x2="250.7" y2="410.5" stroke="#333" stroke-width="1"/>
<line x1="249.5" y1="402.5" x2="250.7" y2="402.5" stroke="#333" stroke-width="1"/>
<line x1="249.5" y1="394.5" x2="250.7" y2="394.5" stroke="#333" stroke-width="1"/>
<line x1="249.5" y1="387.5" x2="250.7" y2="387.5" stroke="#333" stroke-width="1"/>
<line x1="249.5" y1="379.5" x2="250.7" y2="379.5" stroke="#333" stroke-width="1"/>
<line x1="249.5" y1="371.5" x2="250.7" y2="371.5" stroke="#333" stroke-width="1"/>
<line x1="249.5" y1="364.5" x2="250.7" y2="364.5" stroke="#333" stroke-width="1"/>
<line x1="249.5" y1="356.5" x2="250.7" y2="356.5" stroke="#333" stroke-width="1"/>
<line x1="249.5" y1="348.5" x2="250.7" y2="348.5" stroke="#333" stroke-width="1"/>
<line x1="249.5" y1="487.5" x2="252" y2="487.5" stroke="#333" stroke-width="1"/>
<line x1="249.5" y1="471.5" x2="252" y2="471.5" stroke="#333" stroke-width="1"/>
<line x1="249.5" y1="456.5" x2="252" y2="456.5" stroke="#333" stroke-width="1"/>
<line x1="249.5" y1="441.5" x2="252" y2="441.5" stroke="#333" stroke-width="1"/>
<line x1="249.5" y1="425.5" x2="252" y2="425.5" stroke="#333" stroke-width="1"/>
<line x1="249.5" y1="410.5" x2="252" y2="410.5" stroke="#333" stroke-width="1"/>
<line x1="249.5" y1="394.5" x2="252" y2="394.5" stroke="#333" stroke-width="1"/>
<line x1="249.5" y1="379.5" x2="252" y2="379.5" stroke="#333" stroke-width="1"/>
<line x1="249.5" y1="364.5" x2="252" y2="364.5" stroke="#333" stroke-width="1"/>
<line x1="249.5" y1="348.5" x2="252" y2="348.5" stroke="#333" stroke-width="1"/>
<line x1="76.5" y1="346.8" x2="76.5" y2="348.3" stroke="#333" stroke-width="1"/>
<line x1="76.5" y1="487.4" x2="76.5" y2="489.4" stroke="#333" stroke-width="1"/>
<line x1="122.5" y1="346.8" x2="122.5" y2="348.3" stroke="#333" stroke-width="1"/>
<line x1="122.5" y1="487.4" x2="122.5" y2="489.4" stroke="#333" stroke-width="1"/>
<line x1="167.5" y1="346.8" x2="167.5" y2="348.3" stroke="#333" stroke-width="1"/>
<line x1="167.5" y1="487.4" x2="167.5" y2="489.4" stroke="#333" stroke-width="1"/>
<line x1="213.5" y1="346.8" x2="213.5" y2="348.3" stroke="#333" stroke-width="1"/>
<line x1="213.5" y1="487.4" x2="213.5" y2="489.4" stroke="#333" stroke-width="1"/>
<text x="30.8" y="489.2" font-size="12.0" text-anchor="end">0</text>
<text x="30.8" y="458.39" font-size="12.0" text-anchor="end">1</text>
<text x="30.8" y="427.59" font-size="12.0" text-anchor="end">2</text>
<text x="30.8" y="396.79" font-size="12.0" text-anchor="end">3</text>
<text x="30.8" y="365.99" font-size="12.0" text-anchor="end">4</text>
<text x="1" y="356.8" font-size="17" font-weight="bold" style="stroke-width:1.0px">E</text>
<text transform="translate(13.2 416.2) rotate(-90)" font-size="12.3" text-anchor="middle">T2 B cells (x10<tspan font-size="7.5" dy="-4.5">7</tspan><tspan dy="4.5">)</tspan></text>
<text x="58.75" y="366" font-size="12">IgM<tspan font-size="8.2" dy="-3.2">high</tspan><tspan dy="3.2">​</tspan>CD21<tspan font-size="8.2" dy="-3.2">+</tspan><tspan dy="3.2">​</tspan>CD23<tspan font-size="8.2" dy="-3.2">+</tspan><tspan dy="3.2">​</tspan></text>
<line x1="344.5" y1="449.5" x2="344.5" y2="444.5" stroke="#2a2a2a" stroke-width="1"/>
<line x1="343" y1="444.5" x2="346" y2="444.5" stroke="#2a2a2a" stroke-width="1"/>
<rect x="324.5" y="449.5" width="40" height="40" fill="#000000" stroke="#2a2a2a" stroke-width="1"/>
<line x1="390.5" y1="408.5" x2="390.5" y2="397.5" stroke="#2a2a2a" stroke-width="1"/>
<line x1="389" y1="397.5" x2="392" y2="397.5" stroke="#2a2a2a" stroke-width="1"/>
<rect x="370.5" y="408.5" width="40" height="81" fill="#909090" stroke="#2a2a2a" stroke-width="1"/>
<text x="389.4" y="396.5" font-size="9.5" font-weight="bold" text-anchor="middle" letter-spacing="0.3">*</text>
<line x1="435.5" y1="413.5" x2="435.5" y2="401.5" stroke="#2a2a2a" stroke-width="1"/>
<line x1="434" y1="401.5" x2="437" y2="401.5" stroke="#2a2a2a" stroke-width="1"/>
<rect x="415.5" y="413.5" width="40" height="76" fill="#c9c9c9" stroke="#2a2a2a" stroke-width="1"/>
<text x="437" y="398.6" font-size="9.5" font-weight="bold" text-anchor="middle" letter-spacing="0.3">**</text>
<line x1="480.5" y1="372.5" x2="480.5" y2="358.5" stroke="#2a2a2a" stroke-width="1"/>
<line x1="479" y1="358.5" x2="482" y2="358.5" stroke="#2a2a2a" stroke-width="1"/>
<rect x="460.5" y="372.5" width="41" height="117" fill="#ffffff" stroke="#2a2a2a" stroke-width="1"/>
<text x="488.05" y="365.9" font-size="8" font-weight="bold" font-style="italic" text-anchor="middle">#</text>
<text x="495.15" y="365.9" font-size="8" text-anchor="middle">§</text>
<rect x="308" y="350.3" width="209.4" height="139.1" fill="none" stroke="#4a4a4a" stroke-width="1.2"/>
<line x1="307" y1="489.5" x2="308.5" y2="489.5" stroke="#333" stroke-width="1"/>
<line x1="307" y1="481.5" x2="308.5" y2="481.5" stroke="#333" stroke-width="1"/>
<line x1="307" y1="473.5" x2="308.5" y2="473.5" stroke="#333" stroke-width="1"/>
<line x1="307" y1="466.5" x2="308.5" y2="466.5" stroke="#333" stroke-width="1"/>
<line x1="307" y1="458.5" x2="308.5" y2="458.5" stroke="#333" stroke-width="1"/>
<line x1="307" y1="450.5" x2="308.5" y2="450.5" stroke="#333" stroke-width="1"/>
<line x1="307" y1="443.5" x2="308.5" y2="443.5" stroke="#333" stroke-width="1"/>
<line x1="307" y1="435.5" x2="308.5" y2="435.5" stroke="#333" stroke-width="1"/>
<line x1="307" y1="427.5" x2="308.5" y2="427.5" stroke="#333" stroke-width="1"/>
<line x1="307" y1="420.5" x2="308.5" y2="420.5" stroke="#333" stroke-width="1"/>
<line x1="307" y1="412.5" x2="308.5" y2="412.5" stroke="#333" stroke-width="1"/>
<line x1="307" y1="404.5" x2="308.5" y2="404.5" stroke="#333" stroke-width="1"/>
<line x1="307" y1="396.5" x2="308.5" y2="396.5" stroke="#333" stroke-width="1"/>
<line x1="307" y1="389.5" x2="308.5" y2="389.5" stroke="#333" stroke-width="1"/>
<line x1="307" y1="381.5" x2="308.5" y2="381.5" stroke="#333" stroke-width="1"/>
<line x1="307" y1="373.5" x2="308.5" y2="373.5" stroke="#333" stroke-width="1"/>
<line x1="307" y1="366.5" x2="308.5" y2="366.5" stroke="#333" stroke-width="1"/>
<line x1="307" y1="358.5" x2="308.5" y2="358.5" stroke="#333" stroke-width="1"/>
<line x1="307" y1="350.5" x2="308.5" y2="350.5" stroke="#333" stroke-width="1"/>
<line x1="305.5" y1="489.5" x2="308.5" y2="489.5" stroke="#333" stroke-width="1"/>
<line x1="305.5" y1="473.5" x2="308.5" y2="473.5" stroke="#333" stroke-width="1"/>
<line x1="305.5" y1="458.5" x2="308.5" y2="458.5" stroke="#333" stroke-width="1"/>
<line x1="305.5" y1="443.5" x2="308.5" y2="443.5" stroke="#333" stroke-width="1"/>
<line x1="305.5" y1="427.5" x2="308.5" y2="427.5" stroke="#333" stroke-width="1"/>
<line x1="305.5" y1="412.5" x2="308.5" y2="412.5" stroke="#333" stroke-width="1"/>
<line x1="305.5" y1="396.5" x2="308.5" y2="396.5" stroke="#333" stroke-width="1"/>
<line x1="305.5" y1="381.5" x2="308.5" y2="381.5" stroke="#333" stroke-width="1"/>
<line x1="305.5" y1="366.5" x2="308.5" y2="366.5" stroke="#333" stroke-width="1"/>
<line x1="305.5" y1="350.5" x2="308.5" y2="350.5" stroke="#333" stroke-width="1"/>
<line x1="517.5" y1="489.5" x2="518.7" y2="489.5" stroke="#333" stroke-width="1"/>
<line x1="517.5" y1="481.5" x2="518.7" y2="481.5" stroke="#333" stroke-width="1"/>
<line x1="517.5" y1="473.5" x2="518.7" y2="473.5" stroke="#333" stroke-width="1"/>
<line x1="517.5" y1="466.5" x2="518.7" y2="466.5" stroke="#333" stroke-width="1"/>
<line x1="517.5" y1="458.5" x2="518.7" y2="458.5" stroke="#333" stroke-width="1"/>
<line x1="517.5" y1="450.5" x2="518.7" y2="450.5" stroke="#333" stroke-width="1"/>
<line x1="517.5" y1="443.5" x2="518.7" y2="443.5" stroke="#333" stroke-width="1"/>
<line x1="517.5" y1="435.5" x2="518.7" y2="435.5" stroke="#333" stroke-width="1"/>
<line x1="517.5" y1="427.5" x2="518.7" y2="427.5" stroke="#333" stroke-width="1"/>
<line x1="517.5" y1="420.5" x2="518.7" y2="420.5" stroke="#333" stroke-width="1"/>
<line x1="517.5" y1="412.5" x2="518.7" y2="412.5" stroke="#333" stroke-width="1"/>
<line x1="517.5" y1="404.5" x2="518.7" y2="404.5" stroke="#333" stroke-width="1"/>
<line x1="517.5" y1="396.5" x2="518.7" y2="396.5" stroke="#333" stroke-width="1"/>
<line x1="517.5" y1="389.5" x2="518.7" y2="389.5" stroke="#333" stroke-width="1"/>
<line x1="517.5" y1="381.5" x2="518.7" y2="381.5" stroke="#333" stroke-width="1"/>
<line x1="517.5" y1="373.5" x2="518.7" y2="373.5" stroke="#333" stroke-width="1"/>
<line x1="517.5" y1="366.5" x2="518.7" y2="366.5" stroke="#333" stroke-width="1"/>
<line x1="517.5" y1="358.5" x2="518.7" y2="358.5" stroke="#333" stroke-width="1"/>
<line x1="517.5" y1="350.5" x2="518.7" y2="350.5" stroke="#333" stroke-width="1"/>
<line x1="517.5" y1="489.5" x2="520" y2="489.5" stroke="#333" stroke-width="1"/>
<line x1="517.5" y1="473.5" x2="520" y2="473.5" stroke="#333" stroke-width="1"/>
<line x1="517.5" y1="458.5" x2="520" y2="458.5" stroke="#333" stroke-width="1"/>
<line x1="517.5" y1="443.5" x2="520" y2="443.5" stroke="#333" stroke-width="1"/>
<line x1="517.5" y1="427.5" x2="520" y2="427.5" stroke="#333" stroke-width="1"/>
<line x1="517.5" y1="412.5" x2="520" y2="412.5" stroke="#333" stroke-width="1"/>
<line x1="517.5" y1="396.5" x2="520" y2="396.5" stroke="#333" stroke-width="1"/>
<line x1="517.5" y1="381.5" x2="520" y2="381.5" stroke="#333" stroke-width="1"/>
<line x1="517.5" y1="366.5" x2="520" y2="366.5" stroke="#333" stroke-width="1"/>
<line x1="517.5" y1="350.5" x2="520" y2="350.5" stroke="#333" stroke-width="1"/>
<line x1="344.5" y1="348.8" x2="344.5" y2="350.3" stroke="#333" stroke-width="1"/>
<line x1="344.5" y1="489.4" x2="344.5" y2="491.4" stroke="#333" stroke-width="1"/>
<line x1="390.5" y1="348.8" x2="390.5" y2="350.3" stroke="#333" stroke-width="1"/>
<line x1="390.5" y1="489.4" x2="390.5" y2="491.4" stroke="#333" stroke-width="1"/>
<line x1="435.5" y1="348.8" x2="435.5" y2="350.3" stroke="#333" stroke-width="1"/>
<line x1="435.5" y1="489.4" x2="435.5" y2="491.4" stroke="#333" stroke-width="1"/>
<line x1="480.5" y1="348.8" x2="480.5" y2="350.3" stroke="#333" stroke-width="1"/>
<line x1="480.5" y1="489.4" x2="480.5" y2="491.4" stroke="#333" stroke-width="1"/>
<text x="298" y="490.2" font-size="12.0" text-anchor="end">0</text>
<text x="298" y="459.39" font-size="12.0" text-anchor="end">4</text>
<text x="298" y="428.58" font-size="12.0" text-anchor="end">8</text>
<text x="298" y="397.77" font-size="12.0" text-anchor="end">12</text>
<text x="298" y="366.96" font-size="12.0" text-anchor="end">16</text>
<text x="270.5" y="355.7" font-size="17" font-weight="bold" style="stroke-width:1.0px">F</text>
<text transform="translate(283.5 420) rotate(-90)" font-size="12.3" text-anchor="middle">FO B cells (x10<tspan font-size="7.5" dy="-4.5">7</tspan><tspan dy="4.5">)</tspan></text>
<text x="327" y="366.2" font-size="12" textLength="101.9" lengthAdjust="spacingAndGlyphs">B220<tspan font-size="8.2" dy="-3.2">+</tspan><tspan dy="3.2">​</tspan>CD21<tspan font-size="8.2" dy="-3.2">+</tspan><tspan dy="3.2">​</tspan>CD23<tspan font-size="8.2" dy="-3.2">+</tspan><tspan dy="3.2">​</tspan></text>
<line x1="76.5" y1="608.5" x2="76.5" y2="600.5" stroke="#2a2a2a" stroke-width="1"/>
<line x1="75" y1="600.5" x2="78" y2="600.5" stroke="#2a2a2a" stroke-width="1"/>
<rect x="56.5" y="608.5" width="40" height="50" fill="#000000" stroke="#2a2a2a" stroke-width="1"/>
<line x1="122.5" y1="587.5" x2="122.5" y2="573.5" stroke="#2a2a2a" stroke-width="1"/>
<line x1="121" y1="573.5" x2="124" y2="573.5" stroke="#2a2a2a" stroke-width="1"/>
<rect x="102.5" y="587.5" width="40" height="71" fill="#909090" stroke="#2a2a2a" stroke-width="1"/>
<line x1="167.5" y1="593.5" x2="167.5" y2="582.5" stroke="#2a2a2a" stroke-width="1"/>
<line x1="166" y1="582.5" x2="169" y2="582.5" stroke="#2a2a2a" stroke-width="1"/>
<rect x="147.5" y="593.5" width="40" height="65" fill="#c9c9c9" stroke="#2a2a2a" stroke-width="1"/>
<line x1="212.5" y1="549.5" x2="212.5" y2="526.5" stroke="#2a2a2a" stroke-width="1"/>
<line x1="211" y1="526.5" x2="214" y2="526.5" stroke="#2a2a2a" stroke-width="1"/>
<rect x="192.5" y="549.5" width="41" height="109" fill="#ffffff" stroke="#2a2a2a" stroke-width="1"/>
<text x="222.9" y="539.9" font-size="8" font-weight="bold" font-style="italic" text-anchor="middle">#</text>
<rect x="40" y="518.85" width="208.9" height="139.45" fill="none" stroke="#4a4a4a" stroke-width="1.2"/>
<line x1="37.5" y1="658.5" x2="40.5" y2="658.5" stroke="#333" stroke-width="1"/>
<line x1="37.5" y1="646.5" x2="40.5" y2="646.5" stroke="#333" stroke-width="1"/>
<line x1="37.5" y1="635.5" x2="40.5" y2="635.5" stroke="#333" stroke-width="1"/>
<line x1="37.5" y1="623.5" x2="40.5" y2="623.5" stroke="#333" stroke-width="1"/>
<line x1="37.5" y1="611.5" x2="40.5" y2="611.5" stroke="#333" stroke-width="1"/>
<line x1="37.5" y1="600.5" x2="40.5" y2="600.5" stroke="#333" stroke-width="1"/>
<line x1="37.5" y1="588.5" x2="40.5" y2="588.5" stroke="#333" stroke-width="1"/>
<line x1="37.5" y1="576.5" x2="40.5" y2="576.5" stroke="#333" stroke-width="1"/>
<line x1="37.5" y1="565.5" x2="40.5" y2="565.5" stroke="#333" stroke-width="1"/>
<line x1="37.5" y1="553.5" x2="40.5" y2="553.5" stroke="#333" stroke-width="1"/>
<line x1="37.5" y1="542.5" x2="40.5" y2="542.5" stroke="#333" stroke-width="1"/>
<line x1="37.5" y1="530.5" x2="40.5" y2="530.5" stroke="#333" stroke-width="1"/>
<line x1="37.5" y1="518.5" x2="40.5" y2="518.5" stroke="#333" stroke-width="1"/>
<line x1="248.5" y1="658.5" x2="251" y2="658.5" stroke="#333" stroke-width="1"/>
<line x1="248.5" y1="646.5" x2="251" y2="646.5" stroke="#333" stroke-width="1"/>
<line x1="248.5" y1="635.5" x2="251" y2="635.5" stroke="#333" stroke-width="1"/>
<line x1="248.5" y1="623.5" x2="251" y2="623.5" stroke="#333" stroke-width="1"/>
<line x1="248.5" y1="611.5" x2="251" y2="611.5" stroke="#333" stroke-width="1"/>
<line x1="248.5" y1="600.5" x2="251" y2="600.5" stroke="#333" stroke-width="1"/>
<line x1="248.5" y1="588.5" x2="251" y2="588.5" stroke="#333" stroke-width="1"/>
<line x1="248.5" y1="576.5" x2="251" y2="576.5" stroke="#333" stroke-width="1"/>
<line x1="248.5" y1="565.5" x2="251" y2="565.5" stroke="#333" stroke-width="1"/>
<line x1="248.5" y1="553.5" x2="251" y2="553.5" stroke="#333" stroke-width="1"/>
<line x1="248.5" y1="542.5" x2="251" y2="542.5" stroke="#333" stroke-width="1"/>
<line x1="248.5" y1="530.5" x2="251" y2="530.5" stroke="#333" stroke-width="1"/>
<line x1="248.5" y1="518.5" x2="251" y2="518.5" stroke="#333" stroke-width="1"/>
<line x1="76.5" y1="517.35" x2="76.5" y2="518.85" stroke="#333" stroke-width="1"/>
<line x1="76.5" y1="658.3" x2="76.5" y2="660.3" stroke="#333" stroke-width="1"/>
<line x1="122.5" y1="517.35" x2="122.5" y2="518.85" stroke="#333" stroke-width="1"/>
<line x1="122.5" y1="658.3" x2="122.5" y2="660.3" stroke="#333" stroke-width="1"/>
<line x1="167.5" y1="517.35" x2="167.5" y2="518.85" stroke="#333" stroke-width="1"/>
<line x1="167.5" y1="658.3" x2="167.5" y2="660.3" stroke="#333" stroke-width="1"/>
<line x1="212.5" y1="517.35" x2="212.5" y2="518.85" stroke="#333" stroke-width="1"/>
<line x1="212.5" y1="658.3" x2="212.5" y2="660.3" stroke="#333" stroke-width="1"/>
<text x="32.5" y="661.1" font-size="12.0" text-anchor="end">0</text>
<text x="28.5" y="637.85" font-size="12.0" text-anchor="end">.5</text>
<text x="32.5" y="614.61" font-size="12.0" text-anchor="end">1</text>
<text x="28.5" y="591.37" font-size="12.0" text-anchor="end">1.5</text>
<text x="32.5" y="568.13" font-size="12.0" text-anchor="end">2</text>
<text x="28.5" y="544.89" font-size="12.0" text-anchor="end">2.5</text>
<text x="32.5" y="521.65" font-size="12.0" text-anchor="end">3</text>
<text x="1" y="517.1" font-size="17" font-weight="bold" style="stroke-width:1.0px">G</text>
<text transform="translate(9.5 585) rotate(-90)" font-size="12.3" text-anchor="middle">MZ B cells (x10<tspan font-size="7.5" dy="-4.5">7</tspan><tspan dy="4.5">)</tspan></text>
<text x="55" y="535.3" font-size="12" textLength="77.9" lengthAdjust="spacingAndGlyphs">CD21<tspan font-size="8.2" dy="-3.2">high</tspan><tspan dy="3.2">​</tspan>CD23<tspan font-size="8.2" dy="-3.2">-</tspan><tspan dy="3.2">​</tspan></text>
<line x1="342.5" y1="639.5" x2="342.5" y2="636.5" stroke="#2a2a2a" stroke-width="1"/>
<line x1="341" y1="636.5" x2="344" y2="636.5" stroke="#2a2a2a" stroke-width="1"/>
<rect x="323.5" y="639.5" width="39" height="19" fill="#000000" stroke="#2a2a2a" stroke-width="1"/>
<line x1="388.5" y1="627.5" x2="388.5" y2="622.5" stroke="#2a2a2a" stroke-width="1"/>
<line x1="387" y1="622.5" x2="390" y2="622.5" stroke="#2a2a2a" stroke-width="1"/>
<rect x="368.5" y="627.5" width="40" height="31" fill="#909090" stroke="#2a2a2a" stroke-width="1"/>
<text x="389.5" y="617.8" font-size="9.5" font-weight="bold" text-anchor="middle" letter-spacing="0.3">*</text>
<line x1="433.5" y1="603.5" x2="433.5" y2="594.5" stroke="#2a2a2a" stroke-width="1"/>
<line x1="432" y1="594.5" x2="435" y2="594.5" stroke="#2a2a2a" stroke-width="1"/>
<rect x="413.5" y="603.5" width="40" height="55" fill="#c9c9c9" stroke="#2a2a2a" stroke-width="1"/>
<text x="434.6" y="592.4" font-size="9.5" font-weight="bold" text-anchor="middle" letter-spacing="0.3">**</text>
<line x1="479.5" y1="541.5" x2="479.5" y2="524.5" stroke="#2a2a2a" stroke-width="1"/>
<line x1="478" y1="524.5" x2="481" y2="524.5" stroke="#2a2a2a" stroke-width="1"/>
<rect x="459.5" y="541.5" width="40" height="117" fill="#ffffff" stroke="#2a2a2a" stroke-width="1"/>
<text x="485" y="534.5" font-size="8" font-weight="bold" font-style="italic" text-anchor="middle">#</text>
<text x="492.1" y="534.5" font-size="8" text-anchor="middle">§</text>
<rect x="306.5" y="519" width="208.9" height="139.3" fill="none" stroke="#4a4a4a" stroke-width="1.2"/>
<line x1="305" y1="658.5" x2="306.5" y2="658.5" stroke="#333" stroke-width="1"/>
<line x1="305" y1="651.5" x2="306.5" y2="651.5" stroke="#333" stroke-width="1"/>
<line x1="305" y1="644.5" x2="306.5" y2="644.5" stroke="#333" stroke-width="1"/>
<line x1="305" y1="637.5" x2="306.5" y2="637.5" stroke="#333" stroke-width="1"/>
<line x1="305" y1="630.5" x2="306.5" y2="630.5" stroke="#333" stroke-width="1"/>
<line x1="305" y1="623.5" x2="306.5" y2="623.5" stroke="#333" stroke-width="1"/>
<line x1="305" y1="616.5" x2="306.5" y2="616.5" stroke="#333" stroke-width="1"/>
<line x1="305" y1="609.5" x2="306.5" y2="609.5" stroke="#333" stroke-width="1"/>
<line x1="305" y1="602.5" x2="306.5" y2="602.5" stroke="#333" stroke-width="1"/>
<line x1="305" y1="595.5" x2="306.5" y2="595.5" stroke="#333" stroke-width="1"/>
<line x1="305" y1="588.5" x2="306.5" y2="588.5" stroke="#333" stroke-width="1"/>
<line x1="305" y1="581.5" x2="306.5" y2="581.5" stroke="#333" stroke-width="1"/>
<line x1="305" y1="574.5" x2="306.5" y2="574.5" stroke="#333" stroke-width="1"/>
<line x1="305" y1="567.5" x2="306.5" y2="567.5" stroke="#333" stroke-width="1"/>
<line x1="305" y1="560.5" x2="306.5" y2="560.5" stroke="#333" stroke-width="1"/>
<line x1="305" y1="553.5" x2="306.5" y2="553.5" stroke="#333" stroke-width="1"/>
<line x1="305" y1="546.5" x2="306.5" y2="546.5" stroke="#333" stroke-width="1"/>
<line x1="305" y1="539.5" x2="306.5" y2="539.5" stroke="#333" stroke-width="1"/>
<line x1="305" y1="532.5" x2="306.5" y2="532.5" stroke="#333" stroke-width="1"/>
<line x1="305" y1="525.5" x2="306.5" y2="525.5" stroke="#333" stroke-width="1"/>
<line x1="305" y1="519.5" x2="306.5" y2="519.5" stroke="#333" stroke-width="1"/>
<line x1="303.5" y1="658.5" x2="306.5" y2="658.5" stroke="#333" stroke-width="1"/>
<line x1="303.5" y1="644.5" x2="306.5" y2="644.5" stroke="#333" stroke-width="1"/>
<line x1="303.5" y1="630.5" x2="306.5" y2="630.5" stroke="#333" stroke-width="1"/>
<line x1="303.5" y1="616.5" x2="306.5" y2="616.5" stroke="#333" stroke-width="1"/>
<line x1="303.5" y1="602.5" x2="306.5" y2="602.5" stroke="#333" stroke-width="1"/>
<line x1="303.5" y1="588.5" x2="306.5" y2="588.5" stroke="#333" stroke-width="1"/>
<line x1="303.5" y1="574.5" x2="306.5" y2="574.5" stroke="#333" stroke-width="1"/>
<line x1="303.5" y1="560.5" x2="306.5" y2="560.5" stroke="#333" stroke-width="1"/>
<line x1="303.5" y1="546.5" x2="306.5" y2="546.5" stroke="#333" stroke-width="1"/>
<line x1="303.5" y1="532.5" x2="306.5" y2="532.5" stroke="#333" stroke-width="1"/>
<line x1="303.5" y1="519.5" x2="306.5" y2="519.5" stroke="#333" stroke-width="1"/>
<line x1="515.5" y1="658.5" x2="516.7" y2="658.5" stroke="#333" stroke-width="1"/>
<line x1="515.5" y1="651.5" x2="516.7" y2="651.5" stroke="#333" stroke-width="1"/>
<line x1="515.5" y1="644.5" x2="516.7" y2="644.5" stroke="#333" stroke-width="1"/>
<line x1="515.5" y1="637.5" x2="516.7" y2="637.5" stroke="#333" stroke-width="1"/>
<line x1="515.5" y1="630.5" x2="516.7" y2="630.5" stroke="#333" stroke-width="1"/>
<line x1="515.5" y1="623.5" x2="516.7" y2="623.5" stroke="#333" stroke-width="1"/>
<line x1="515.5" y1="616.5" x2="516.7" y2="616.5" stroke="#333" stroke-width="1"/>
<line x1="515.5" y1="609.5" x2="516.7" y2="609.5" stroke="#333" stroke-width="1"/>
<line x1="515.5" y1="602.5" x2="516.7" y2="602.5" stroke="#333" stroke-width="1"/>
<line x1="515.5" y1="595.5" x2="516.7" y2="595.5" stroke="#333" stroke-width="1"/>
<line x1="515.5" y1="588.5" x2="516.7" y2="588.5" stroke="#333" stroke-width="1"/>
<line x1="515.5" y1="581.5" x2="516.7" y2="581.5" stroke="#333" stroke-width="1"/>
<line x1="515.5" y1="574.5" x2="516.7" y2="574.5" stroke="#333" stroke-width="1"/>
<line x1="515.5" y1="567.5" x2="516.7" y2="567.5" stroke="#333" stroke-width="1"/>
<line x1="515.5" y1="560.5" x2="516.7" y2="560.5" stroke="#333" stroke-width="1"/>
<line x1="515.5" y1="553.5" x2="516.7" y2="553.5" stroke="#333" stroke-width="1"/>
<line x1="515.5" y1="546.5" x2="516.7" y2="546.5" stroke="#333" stroke-width="1"/>
<line x1="515.5" y1="539.5" x2="516.7" y2="539.5" stroke="#333" stroke-width="1"/>
<line x1="515.5" y1="532.5" x2="516.7" y2="532.5" stroke="#333" stroke-width="1"/>
<line x1="515.5" y1="525.5" x2="516.7" y2="525.5" stroke="#333" stroke-width="1"/>
<line x1="515.5" y1="519.5" x2="516.7" y2="519.5" stroke="#333" stroke-width="1"/>
<line x1="515.5" y1="658.5" x2="518" y2="658.5" stroke="#333" stroke-width="1"/>
<line x1="515.5" y1="644.5" x2="518" y2="644.5" stroke="#333" stroke-width="1"/>
<line x1="515.5" y1="630.5" x2="518" y2="630.5" stroke="#333" stroke-width="1"/>
<line x1="515.5" y1="616.5" x2="518" y2="616.5" stroke="#333" stroke-width="1"/>
<line x1="515.5" y1="602.5" x2="518" y2="602.5" stroke="#333" stroke-width="1"/>
<line x1="515.5" y1="588.5" x2="518" y2="588.5" stroke="#333" stroke-width="1"/>
<line x1="515.5" y1="574.5" x2="518" y2="574.5" stroke="#333" stroke-width="1"/>
<line x1="515.5" y1="560.5" x2="518" y2="560.5" stroke="#333" stroke-width="1"/>
<line x1="515.5" y1="546.5" x2="518" y2="546.5" stroke="#333" stroke-width="1"/>
<line x1="515.5" y1="532.5" x2="518" y2="532.5" stroke="#333" stroke-width="1"/>
<line x1="515.5" y1="519.5" x2="518" y2="519.5" stroke="#333" stroke-width="1"/>
<line x1="342.5" y1="517.5" x2="342.5" y2="519" stroke="#333" stroke-width="1"/>
<line x1="342.5" y1="658.3" x2="342.5" y2="660.3" stroke="#333" stroke-width="1"/>
<line x1="388.5" y1="517.5" x2="388.5" y2="519" stroke="#333" stroke-width="1"/>
<line x1="388.5" y1="658.3" x2="388.5" y2="660.3" stroke="#333" stroke-width="1"/>
<line x1="433.5" y1="517.5" x2="433.5" y2="519" stroke="#333" stroke-width="1"/>
<line x1="433.5" y1="658.3" x2="433.5" y2="660.3" stroke="#333" stroke-width="1"/>
<line x1="479.5" y1="517.5" x2="479.5" y2="519" stroke="#333" stroke-width="1"/>
<line x1="479.5" y1="658.3" x2="479.5" y2="660.3" stroke="#333" stroke-width="1"/>
<text x="298.7" y="664.9" font-size="12.0" text-anchor="end">0</text>
<text x="298.7" y="637.04" font-size="12.0" text-anchor="end">2</text>
<text x="298.7" y="609.18" font-size="12.0" text-anchor="end">4</text>
<text x="298.7" y="581.32" font-size="12.0" text-anchor="end">6</text>
<text x="298.7" y="553.46" font-size="12.0" text-anchor="end">8</text>
<text x="298.7" y="525.6" font-size="12.0" text-anchor="end">10</text>
<text x="270.5" y="517.4" font-size="17" font-weight="bold" style="stroke-width:1.0px">H</text>
<text transform="translate(285 583.1) rotate(-90)" font-size="12.3" text-anchor="middle">PC/PB (x10<tspan font-size="7.5" dy="-4.5">7</tspan><tspan dy="4.5">)</tspan></text>
<text x="322" y="535.8" font-size="12" textLength="88.0" lengthAdjust="spacingAndGlyphs">B220<tspan font-size="8.2" dy="-3.2"><tspan font-style="italic">+/low</tspan></tspan><tspan dy="3.2">​</tspan>CD138<tspan font-size="8.2" dy="-3.2">+</tspan><tspan dy="3.2">​</tspan></text>
<rect x="53.4" y="21.5" width="6.7" height="6.2" fill="#000000" stroke="#2a2a2a" stroke-width="1"/>
<text x="67.6" y="27.4" font-size="12">wt</text>
<rect x="53.4" y="35.9" width="6.7" height="6.2" fill="#909090" stroke="#2a2a2a" stroke-width="1"/>
<text x="68.2" y="41.8" font-size="12"><tspan font-style="italic">Bmf</tspan><tspan font-style="italic" font-size="7" dy="-4.5">-/-</tspan></text>
<rect x="53.4" y="51.3" width="6.7" height="6.2" fill="#c9c9c9" stroke="#2a2a2a" stroke-width="1"/>
<text x="68.2" y="57.5" font-size="12"><tspan font-style="italic">Bim</tspan><tspan font-style="italic" font-size="7" dy="-4.5">-/-</tspan></text>
<rect x="53.4" y="65.7" width="6.7" height="6.2" fill="#ffffff" stroke="#2a2a2a" stroke-width="1"/>
<text x="68.2" y="71.3" font-size="12"><tspan font-style="italic">Bmf</tspan><tspan font-style="italic" font-size="7" dy="-4.5">-/-</tspan><tspan font-style="italic" dy="4.5" dx="1.5">Bim</tspan><tspan font-style="italic" font-size="7" dy="-4.5">-/-</tspan></text>
</svg>
</body></html>
